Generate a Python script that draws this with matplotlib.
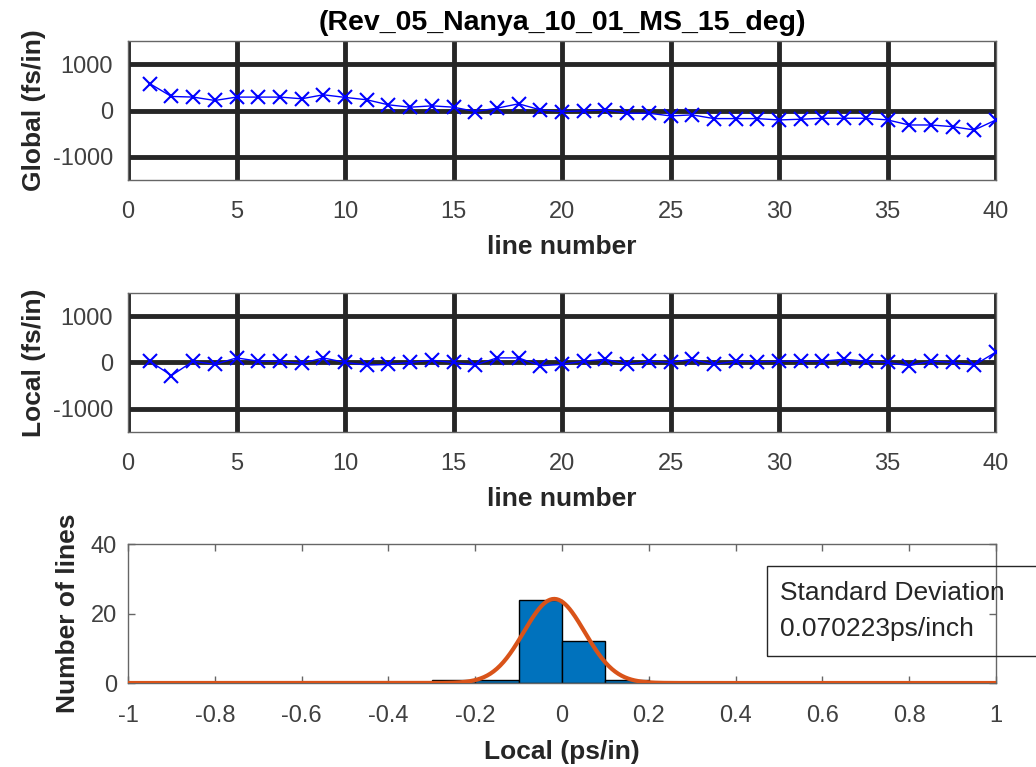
import numpy as np
import matplotlib
matplotlib.use("Agg")
import matplotlib.pyplot as plt
from matplotlib.patches import Rectangle

# -----------------------------
# DATA
# -----------------------------
line_number = np.arange(1, 41)

global_fs = [580, 304, 290, 217, 290, 290, 290, 254, 340, 283,
             232, 123, 72, 101, 72, -22, 51, 145, 14, -22,
             -7, 14, -58, -58, -116, -94, -174, -174, -174, -203,
             -188, -167, -167, -167, -203, -312, -312, -348, -420, -203]

local_fs = [28, -282, 28, -42, 99, 28, 28, -21, 99, 0,
            -56, -42, 0, 49, 0, -56, 99, 99, -70, -42,
            28, 70, -42, 28, 0, 70, -42, 28, 14, 28,
            28, 28, 70, 28, 0, -70, 28, 0, -56, 225]

bin_left = [-0.3, -0.2, -0.1, 0.0, 0.1]
bin_counts = [1, 1, 24, 12, 1]
bin_width = 0.1

fit_mean = -0.018
fit_std = 0.070223
fit_peak = 24.2

title = "(Rev_05_Nanya_10_01_MS_15_deg)"
std_text = "Standard Deviation\n0.070223ps/inch"

# -----------------------------
# STYLE
# -----------------------------
plt.rcParams["font.family"] = ["Liberation Sans", "DejaVu Sans"]
plt.rcParams["axes.unicode_minus"] = False
TICK_COLOR = "#404040"
LABEL_COLOR = "#262626"
GRID_COLOR = "#262626"
SPINE_COLOR = "#666666"
BAR_COLOR = "#0072BD"
FIT_COLOR = "#D95319"
TICK_SIZE = 17
LABEL_SIZE = 19

fig = plt.figure(figsize=(10.36, 7.67), dpi=100)

ax1 = fig.add_axes([0.1236, 0.7653, 0.8378, 0.1812])
ax2 = fig.add_axes([0.1236, 0.4368, 0.8378, 0.1812])
ax3 = fig.add_axes([0.1236, 0.1095, 0.8378, 0.1812])


def line_panel(ax, values, ylabel):
    ax.plot(line_number, values, color="#0000FF", linewidth=1,
            marker="x", markersize=10, markeredgewidth=1.5, zorder=3)
    ax.set_xlim(0, 40)
    ax.set_ylim(-1500, 1500)
    ax.set_xticks([0, 5, 10, 15, 20, 25, 30, 35, 40])
    ax.set_yticks([-1000, 0, 1000])
    ax.grid(True, color=GRID_COLOR, linewidth=3.5)
    ax.set_axisbelow(True)
    for side in ax.spines:
        ax.spines[side].set_color(SPINE_COLOR)
        ax.spines[side].set_linewidth(1)
    ax.tick_params(length=0, labelsize=TICK_SIZE, labelcolor=TICK_COLOR)
    ax.tick_params(axis="x", pad=15)
    ax.tick_params(axis="y", pad=11)
    ax.set_xlabel("line number", fontsize=LABEL_SIZE, fontweight="bold",
                  color=LABEL_COLOR, labelpad=9)
    ax.set_ylabel(ylabel, fontsize=LABEL_SIZE, fontweight="bold",
                  color=LABEL_COLOR, labelpad=5)


line_panel(ax1, global_fs, "Global (fs/in)")
line_panel(ax2, local_fs, "Local (fs/in)")
ax1.set_title(title, fontsize=20.5, fontweight="bold", color="black", pad=8)

# -----------------------------
# HISTOGRAM + FIT
# -----------------------------
ax3.bar(bin_left, bin_counts, width=bin_width, align="edge",
        color=BAR_COLOR, edgecolor="black", linewidth=1, zorder=2)
xs = np.linspace(-1, 1, 801)
ax3.plot(xs, fit_peak * np.exp(-0.5 * ((xs - fit_mean) / fit_std) ** 2),
         color=FIT_COLOR, linewidth=3, zorder=3)
ax3.set_xlim(-1, 1)
ax3.set_ylim(0, 40)
ax3.set_xticks(np.round(np.arange(-1, 1.01, 0.2), 1))
ax3.set_xticklabels(["-1", "-0.8", "-0.6", "-0.4", "-0.2", "0",
                     "0.2", "0.4", "0.6", "0.8", "1"])
ax3.set_yticks([0, 20, 40])
for side in ax3.spines:
    ax3.spines[side].set_color(SPINE_COLOR)
    ax3.spines[side].set_linewidth(1)
ax3.tick_params(direction="in", length=5, width=1, color=SPINE_COLOR,
                top=True, right=True, labelsize=TICK_SIZE,
                labelcolor=TICK_COLOR)
ax3.tick_params(axis="x", pad=16)
ax3.tick_params(axis="y", pad=8)
ax3.set_xlabel("Local (ps/in)", fontsize=LABEL_SIZE, fontweight="bold",
               color=LABEL_COLOR, labelpad=9)
ax3.set_ylabel("Number of lines", fontsize=LABEL_SIZE, fontweight="bold",
               color=LABEL_COLOR, labelpad=8)

# text box with standard deviation
fig.patches.append(Rectangle((0.7403, 0.1447), 0.3, 0.1173,
                             transform=fig.transFigure, fill=False,
                             edgecolor="#262626", linewidth=1))
fig.text(0.7529, 0.2034, std_text, fontsize=19, color="#262626",
         va="center", ha="left", linespacing=1.65)

fig.savefig("out.png", dpi=100)
